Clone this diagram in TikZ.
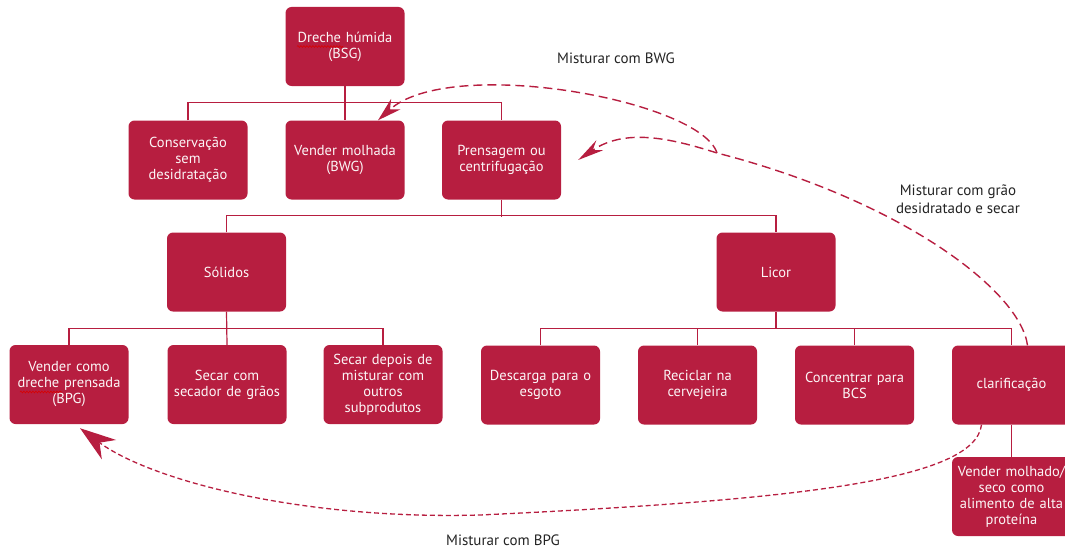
\documentclass[tikz,border=0pt]{standalone}
\usepackage{fontspec}
\setmainfont{PT Sans}
\usetikzlibrary{arrows.meta,decorations.pathmorphing}
\definecolor{crim}{RGB}{183,30,64}
\definecolor{lbl}{RGB}{35,35,35}
\begin{document}
\begin{tikzpicture}[x=1pt,y=-1pt,
  box/.style={fill=crim, draw=none, rounded corners=6pt, minimum width=119pt, minimum height=79pt,
    text width=116pt, align=center, text=white!96!crim, inner sep=0pt, font=\fontsize{14.5}{16}\selectfont},
  tree/.style={draw=crim, line width=1.2pt},
  mix/.style={draw=crim, line width=1.4pt, dash pattern=on 9pt off 5pt},
  mixfine/.style={draw=crim, line width=1.3pt, dash pattern=on 5pt off 3pt},
  lab/.style={text=lbl, align=center, font=\fontsize{15}{18}\selectfont},
  squig/.style={red!85!black, line width=0.6pt, decorate, decoration={snake, amplitude=0.9pt, segment length=3pt}}
]
\useasboundingbox (0,0) rectangle (1065,551);
% row 1
\node[box] (bsg) at (345,46.5) {Dreche húmida\\(BSG)};
% row 2
\node[box] (cons) at (188,160) {Conservação\\sem\\desidratação};
\node[box] (bwg) at (345,160) {Vender molhada\\(BWG)};
\node[box] (pren) at (501.5,160) {Prensagem ou\\centrifugação};
% row 3
\node[box] (sol) at (226.5,272) {Sólidos};
\node[box] (licor) at (776,272) {Licor};
% row 4
\node[box] (vcomo) at (69,384.5) {Vender como\\dreche prensada\\(BPG)};
\node[box] (secc) at (227,384.5) {Secar com\\secador de grãos};
\node[box] (secd) at (383,384.5) {Secar depois de\\misturar com\\outros\\subprodutos};
\node[box] (desc) at (540.5,385) {Descarga para o\\esgoto};
\node[box] (recic) at (697.5,385) {Reciclar na\\cervejeira};
\node[box] (conc) at (854.5,385) {Concentrar para\\BCS};
\node[box] (clar) at (1011.5,385) {clarificação};
\node[box] (vms) at (1011.5,496.5) {Vender molhado/\\seco como\\alimento de alta\\proteína};
% spell-check squiggles
\draw[squig] (297,46.5) -- (343,46.5);
\draw[squig] (20,392) -- (62,392);
% tree connectors
\draw[tree] (bsg.south) -- (bwg.north);
\draw[tree] (cons.north) -- ++(0,-18) -| (pren.north);
\draw[tree] (pren.south) -- ++(0,17);
\draw[tree] (sol.north) -- ++(0,-17) -| (licor.north);
\draw[tree] (sol.south) -- (secc.north);
\draw[tree] (vcomo.north) -- ++(0,-16) -| (secd.north);
\draw[tree] (licor.south) -- ++(0,17);
\draw[tree] (desc.north) -- ++(0,-17) -| (clar.north);
\draw[tree] (recic.north) -- ++(0,-17);
\draw[tree] (conc.north) -- ++(0,-17);
\draw[tree] (clar.south) -- (vms.north);
% dashed mixing arrows
\coordinate (split) at (717,153);
\draw[mix, -{Stealth[length=26pt,width=12pt]}] ([xshift=16pt]clar.north)
  .. controls (1020,290) and (900,200) .. (split)
  .. controls (670,138) and (625,128) .. ([xshift=17pt]pren.east);
\draw[mix, -{Stealth[length=24pt,width=14pt]}] (split)
  .. controls (700,100) and (450,55) .. ([xshift=33pt]bwg.north);
\draw[mixfine, -{Stealth[length=36pt,width=24pt]}] ([xshift=-30pt]clar.south)
  .. controls (975,480) and (800,500) .. (480,515)
  .. controls (300,520) and (150,480) .. ([xshift=11pt,yshift=-4pt]vcomo.south);
% labels
\node[lab] (lbwg) at (616,58) {Misturar com BWG};
\node[lab] (lgrao) at (958,199) {Misturar com grão\\desidratado e secar};
\node[lab] (lbpg) at (503,540) {Misturar com BPG};
\end{tikzpicture}
\end{document}
